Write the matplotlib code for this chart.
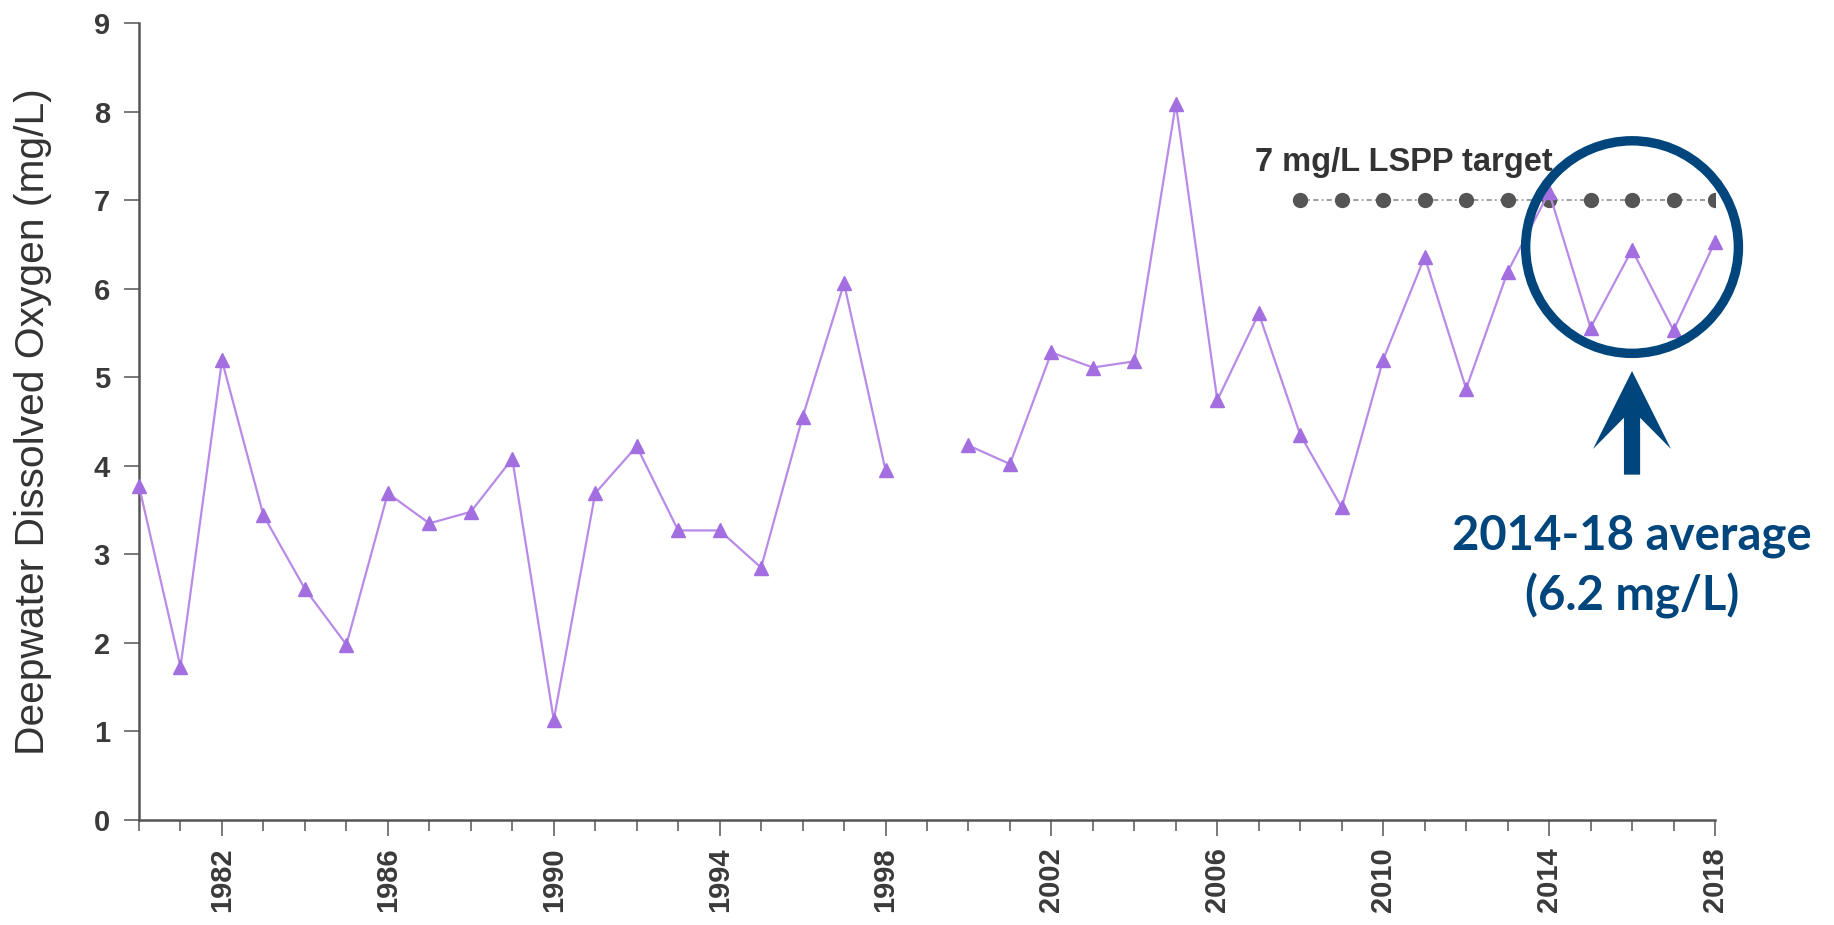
import numpy as np
import matplotlib.pyplot as plt
from matplotlib.patches import Ellipse, FancyArrow
from matplotlib.ticker import MultipleLocator

# Deepwater DO, one value per year (1999 has no data)
years = list(range(1980, 2019))
oxygen = [3.77, 1.73, 5.19, 3.44, 2.61, 1.98, 3.69, 3.35, 3.48, 4.08,
          1.13, 3.69, 4.22, 3.27, 3.27, 2.85, 4.55, 6.06, 3.95, np.nan,
          4.23, 4.02, 5.28, 5.11, 5.18, 8.09, 4.74, 5.72, 4.35, 3.53,
          5.20, 6.36, 4.87, 6.19, 7.09, 5.56, 6.44, 5.53, 6.53]

# LSPP target line
target_years = list(range(2008, 2019))
target_value = 7.0
target_label = '7 mg/L LSPP target'

avg_label = '2014-18 average\n(6.2 mg/L)'
navy = '#00467C'

fig = plt.figure(figsize=(18.34, 9.25), dpi=100)
ax = fig.add_axes([0.0758, 0.1135, 0.8593, 0.8616])

ax.plot(years, oxygen, color='#B98BE8', lw=1.6, marker='^', ms=10,
        mfc='#A36FE0', mec='#A36FE0', clip_on=False, zorder=3)

ax.plot(target_years, [target_value] * len(target_years), color='#8a8a8a',
        lw=1.2, ls=(0, (3, 2, 1, 2)), marker='o', ms=10, mfc='#555555',
        mec='#555555', zorder=2)
ax.text(2006.9, 7.43, target_label, fontsize=23.5, fontweight='bold',
        color='#333333', va='center', ha='left', family='Liberation Sans')

# highlight circle + arrow
ax.add_patch(Ellipse((2016.0, 6.47), 5.13, 2.40, fill=False, ec=navy,
                     lw=6.8, zorder=5, clip_on=False))
ax.add_patch(FancyArrow(2016.0, 3.90, 0, 1.17, width=0.39, head_width=1.88,
                        head_length=0.88, overhang=0.4,
                        length_includes_head=True, color=navy, lw=0,
                        clip_on=False, zorder=5))
ax.text(2016.0, 2.86, avg_label, fontsize=34, fontweight='bold', color=navy,
        ha='center', va='center', linespacing=1.4, family='Lato')

ax.set_xlim(1980, 2018)
ax.set_ylim(0, 9)
ax.xaxis.set_major_locator(MultipleLocator(4, offset=2))
ax.xaxis.set_minor_locator(MultipleLocator(1))
ax.yaxis.set_major_locator(MultipleLocator(1))

for s in ['top', 'right']:
    ax.spines[s].set_visible(False)
for s in ['left', 'bottom']:
    ax.spines[s].set_color('#555555')
    ax.spines[s].set_linewidth(1.8)

ax.tick_params(axis='x', which='major', length=11.5, width=1.1,
               color='#555555', pad=8, labelrotation=90, labelsize=21,
               labelcolor='#3a3a3a')
ax.tick_params(axis='x', which='minor', length=8, width=1.1, color='#555555')
ax.tick_params(axis='y', length=11, width=1.1, color='#555555', pad=10,
               labelsize=21, labelcolor='#3a3a3a')
for lab in ax.get_xticklabels() + ax.get_yticklabels():
    lab.set_fontweight('bold')
    lab.set_family('Liberation Sans')

ax.set_ylabel('Deepwater Dissolved Oxygen (mg/L)', fontsize=29.3,
              color='#333333', family='Liberation Sans', labelpad=30)

fig.savefig('out.png', dpi=100)
